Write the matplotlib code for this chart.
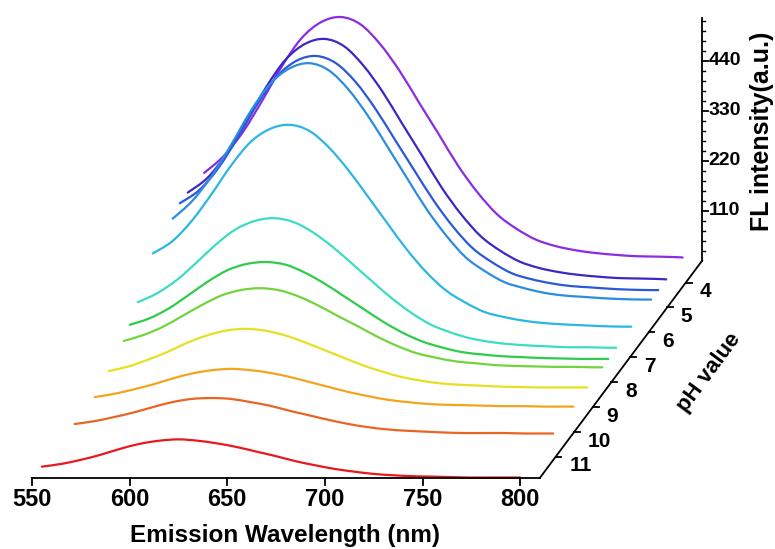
import numpy as np
import matplotlib.pyplot as plt
from matplotlib.path import Path
from matplotlib.patches import PathPatch

plt.rcParams["font.family"] = ["Liberation Sans", "DejaVu Sans"]
plt.rcParams["font.weight"] = "bold"

# emission wavelengths (nm) shared by all spectra
wavelengths = [555, 565, 575, 585, 595, 605, 615, 625, 635, 645, 655, 665, 675,
               685, 695, 705, 715, 725, 735, 745, 755, 765, 775, 785, 795, 800]

# position of each spectrum on the pH (depth) axis, front to back
depth_pos = [11.85, 10.08, 9.0, 8.25, 7.44, 7.12, 6.69, 5.88, 4.81, 4.43, 4.0, 3.12]

# FL intensity (a.u.) of each spectrum, front (red) to back (violet)
red = [25, 31, 40, 51, 64, 75, 82, 85, 82, 76, 68, 58, 48, 37, 28, 20, 14, 9, 6, 4, 3, 2, 1, 1, 1, 1]
orange_red = [22, 28, 37, 47, 59, 70, 77, 79, 77, 70, 62, 51, 41, 31, 22, 15, 10, 7, 5, 3, 2, 2, 2, 1, 1, 1]
orange = [22, 29, 39, 50, 63, 74, 81, 84, 81, 75, 66, 55, 44, 33, 24, 16, 11, 7, 5, 4, 3, 2, 2, 1, 1, 1]
yellow = [38, 48, 63, 80, 100, 116, 127, 131, 127, 117, 102, 85, 68, 51, 37, 25, 17, 11, 8, 6, 4, 3, 2, 2, 2, 2]
yellow_green = [60, 73, 91, 115, 139, 160, 172, 176, 171, 157, 137, 114, 92, 69, 49, 33, 23, 15, 11, 7, 5, 4, 3, 3, 2, 2]
green = [78, 92, 114, 143, 173, 198, 212, 216, 210, 192, 168, 140, 112, 84, 60, 41, 28, 18, 13, 9, 7, 5, 4, 3, 3, 3]
teal = [104, 124, 153, 191, 231, 264, 283, 289, 280, 257, 225, 188, 150, 113, 81, 55, 38, 25, 17, 12, 9, 7, 5, 5, 4, 4]
cyan = [167, 194, 239, 297, 360, 412, 441, 450, 437, 401, 351, 293, 234, 176, 126, 86, 59, 38, 27, 19, 14, 11, 9, 7, 6, 6]
sky = [185, 224, 279, 348, 422, 482, 516, 527, 511, 469, 411, 343, 274, 206, 148, 100, 69, 45, 32, 22, 16, 13, 10, 8, 7, 7]
blue = [198, 227, 277, 345, 418, 478, 512, 522, 506, 465, 407, 339, 271, 204, 146, 99, 68, 44, 31, 22, 16, 13, 10, 8, 7, 7]
indigo = [198, 230, 284, 354, 429, 490, 525, 536, 520, 477, 418, 348, 279, 209, 150, 102, 70, 46, 32, 23, 17, 13, 10, 9, 8, 7]
violet = [193, 230, 284, 354, 429, 490, 525, 536, 520, 477, 418, 348, 279, 209, 150, 102, 70, 46, 32, 23, 17, 13, 10, 9, 8, 7]

spectra = [red, orange_red, orange, yellow, yellow_green, green,
           teal, cyan, sky, blue, indigo, violet]
colors = ["#e8191c", "#ea6424", "#f3a41f", "#e6df22", "#72d43c", "#2fcc4c",
          "#3cdcc4", "#2cb6e2", "#2b8ce0", "#2a58d8", "#3a28c4", "#8b2be6"]

x_ticks = [550, 600, 650, 700, 750, 800]
ph_ticks = [4, 5, 6, 7, 8, 9, 10, 11]
z_ticks = [110, 220, 330, 440]
z_minor = [v for v in range(22, 534, 22) if v not in z_ticks]

# oblique projection of the depth (pH) axis
PH_FRONT, PH_BACK = 11.85, 3.12
DX, DY = 9.524, 54.78  # shift per pH unit, in nm and in intensity units
X_END = 810
Z_TOP = 534


def proj(wl, inten, ph):
    k = PH_FRONT - ph
    return np.asarray(wl, float) + k * DX, np.asarray(inten, float) + k * DY


def smooth_path(x, y):
    # Bezier segments through every measured point (smooth line drawing)
    pts = np.column_stack([x, y])
    ext = np.vstack([pts[0], pts, pts[-1]])
    verts = [pts[0]]
    codes = [Path.MOVETO]
    for i in range(len(pts) - 1):
        p0, p1, p2, p3 = ext[i], ext[i + 1], ext[i + 2], ext[i + 3]
        verts += [p1 + (p2 - p0) / 6, p2 - (p3 - p1) / 6, p2]
        codes += [Path.CURVE4] * 3
    return Path(verts, codes)


fig = plt.figure(figsize=(7.75, 5.49), dpi=100)
ax = fig.add_axes([0, 0, 1, 1])
ax.set_xlim(533.62, 930.44)
ax.set_ylim(-156.2, 1051.7)
ax.axis("off")

# spectra, back to front
for vals, ph, c in reversed(list(zip(spectra, depth_pos, colors))):
    x, y = proj(wavelengths, vals, ph)
    ax.add_patch(PathPatch(smooth_path(x, y), fill=False, edgecolor=c,
                           lw=1.6, capstyle="round"))

lk = dict(color="black", lw=1.3, solid_capstyle="projecting")

# front wavelength axis
ax.plot([550, X_END], [0, 0], **lk)
for t in x_ticks:
    ax.plot([t, t], [0, -15], **lk)
    ax.text(t, -22, str(t), ha="center", va="top", fontsize=17, fontweight="bold")
ax.text(679.5, -141, "Emission Wavelength (nm)", ha="center", va="baseline",
        fontsize=17.5, fontweight="bold")

# depth (pH) axis
bx, by = proj([X_END, X_END], [0, 0], np.array([PH_FRONT, PH_BACK]))
ax.plot(bx, by, **lk)
for p in ph_ticks:
    tx, ty = proj(X_END, 0, p)
    ax.plot([tx, tx + 3], [ty, ty], **lk)
    ax.text(tx + 7, ty - 20, str(p), ha="left", va="center", fontsize=15,
            fontweight="bold")
ax.text(896.5, 232, "pH value", ha="center", va="center", rotation=53.5,
        fontsize=16, fontweight="bold")

# intensity axis on the back plane
zx, zy = proj(X_END, 0, PH_BACK)
zx, zy = float(zx), float(zy)
ax.plot([zx, zx], [zy, zy + Z_TOP], **lk)
for t in z_ticks:
    ax.plot([zx, zx + 2.8], [zy + t, zy + t], **lk)
    ax.text(zx + 3.2, zy + t, str(t), ha="left", va="center", fontsize=14,
            fontweight="bold")
for t in z_minor:
    ax.plot([zx, zx + 1.5], [zy + t, zy + t], color="black", lw=1.0)
ax.text(924.0, 763.5, "FL intensity(a.u.)", ha="center", va="center",
        rotation=90, fontsize=18, fontweight="bold")

fig.savefig("out.png", dpi=100, facecolor="white")
